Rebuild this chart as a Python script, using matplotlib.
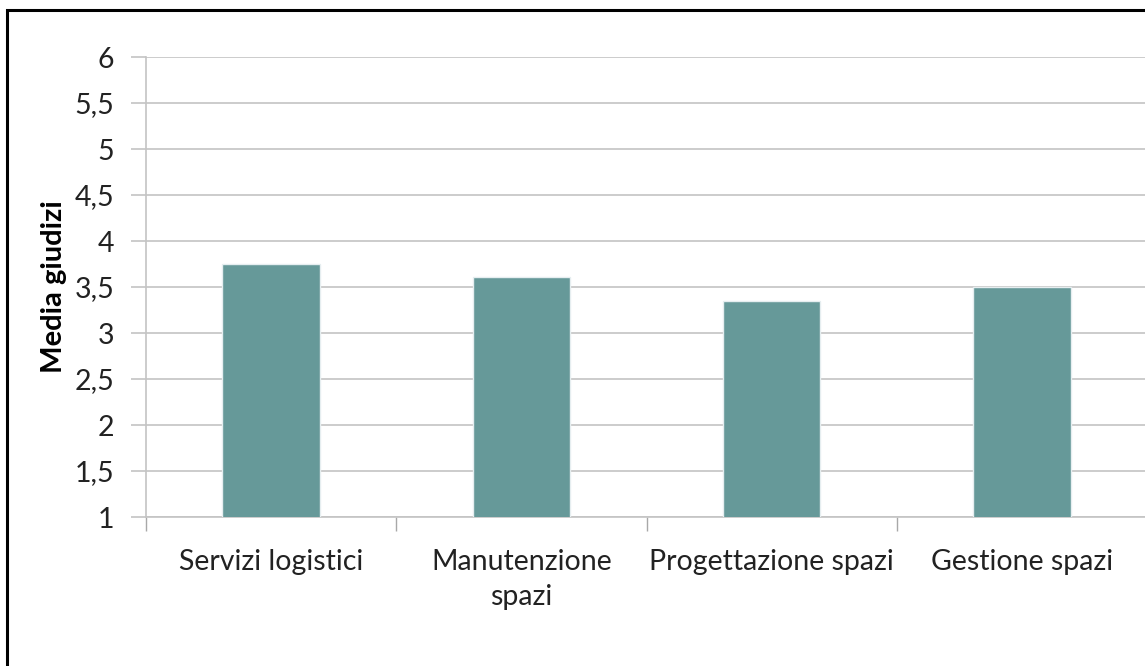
import matplotlib
matplotlib.use("Agg")
import matplotlib.pyplot as plt
from matplotlib.patches import Rectangle

categories = ["Servizi logistici", "Manutenzione\nspazi", "Progettazione spazi", "Gestione spazi"]
values = [3.75, 3.61, 3.35, 3.50]
yticks = [1, 1.5, 2, 2.5, 3, 3.5, 4, 4.5, 5, 5.5, 6]
ytick_labels = ["1", "1,5", "2", "2,5", "3", "3,5", "4", "4,5", "5", "5,5", "6"]

plt.rcParams['font.family'] = ['Lato', 'DejaVu Sans']

W, H = 1145, 666
fig = plt.figure(figsize=(W / 100, H / 100), dpi=100)
ax = fig.add_axes([146 / W, (H - 517) / H, 1001 / W, 460 / H])

x = range(len(categories))
ax.bar(x, values, width=0.39, bottom=0, color="#669999",
       edgecolor="#e6eef0", linewidth=1.0, zorder=3)

ax.set_ylim(1, 6)
ax.set_xlim(-0.5, len(categories) - 0.5)
ax.set_yticks(yticks)
ax.set_yticklabels(ytick_labels, fontsize=20.5, color="#222222")
ax.yaxis.grid(True, color="#c4c4c4", linewidth=1.2, zorder=0)
ax.set_axisbelow(True)

ax.set_xticks(list(x))
ax.set_xticklabels(categories, fontsize=20.5, color="#222222", linespacing=1.45)
ax.tick_params(axis='x', length=0, pad=23)
ax.set_xticks([i - 0.5 for i in range(len(categories) + 1)], minor=True)
ax.tick_params(axis='x', which='minor', length=10, color="#a8a8a8", width=1)
ax.tick_params(axis='y', length=11, color="#c4c4c4", width=1.2, pad=12)

for s in ["top", "right"]:
    ax.spines[s].set_visible(False)
ax.spines["left"].set_color("#c4c4c4")
ax.spines["bottom"].set_color("#c4c4c4")
ax.spines["left"].set_linewidth(1.2)
ax.spines["bottom"].set_linewidth(1.2)

ax.set_ylabel("Media giudizi", fontsize=21, fontweight="bold")
ax.yaxis.set_label_coords(-79 / 1001, 0.5)

fig.patches.append(Rectangle((7 / W, -0.2), 1.5, (H - 10) / H + 0.2,
                             transform=fig.transFigure, fill=False,
                             edgecolor="black", linewidth=2.2, clip_on=False))

fig.savefig("out.png", dpi=100)
